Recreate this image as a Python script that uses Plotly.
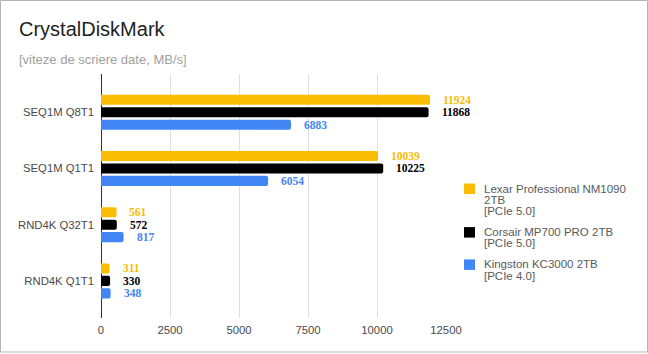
import plotly.graph_objects as go

categories = ["SEQ1M Q8T1", "SEQ1M Q1T1", "RND4K Q32T1", "RND4K Q1T1"]
series_names = [
    "Lexar Professional NM1090 2TB [PCIe 5.0]",
    "Corsair MP700 PRO 2TB [PCIe 5.0]",
    "Kingston KC3000 2TB [PCIe 4.0]",
]
legend_lines = [
    ["Lexar Professional NM1090", "2TB", "[PCIe 5.0]"],
    ["Corsair MP700 PRO 2TB", "[PCIe 5.0]"],
    ["Kingston KC3000 2TB", "[PCIe 4.0]"],
]
lexar = [11924, 10039, 561, 311]
corsair = [11868, 10225, 572, 330]
kingston = [6883, 6054, 817, 348]
colors = ["#fbbc04", "#000000", "#4285f4"]
x_ticks = [0, 2500, 5000, 7500, 10000, 12500]

series_values = [lexar, corsair, kingston]

W, H = 648, 354
L, R, T, B = 101, 202, 74, 36
PW = W - L - R
PH = H - T - B


def px(xp):
    return (xp - L) / PW


def py(yp):
    return (H - B - yp) / PH


fig = go.Figure()
for name, vals, col in zip(series_names, series_values, colors):
    fig.add_trace(go.Bar(
        y=categories, x=vals, orientation="h", name=name,
        marker=dict(color=col, line=dict(width=0)),
        showlegend=False, hoverinfo="x+name",
    ))

# category spacing and bar slot in pixels
yrange = [3.66, -0.68]
unit_px = PH / (yrange[0] - yrange[1])
bargap = 0.336
slot = unit_px * (1 - bargap) / 3

annotations = []
for i, (vals, col) in enumerate(zip(series_values, colors)):
    for c, v in zip(categories, vals):
        annotations.append(dict(
            x=v, y=c, xref="x", yref="y", text=f"<b>{v}</b>",
            showarrow=False, xanchor="left", yanchor="middle",
            xshift=11, yshift=(1 - i) * slot,
            font=dict(family="Liberation Serif, Times New Roman, serif", size=11.5, color=col),
        ))

# title & subtitle
annotations.append(dict(
    x=px(17), y=py(29), xref="paper", yref="paper", text="CrystalDiskMark",
    showarrow=False, xanchor="left", yanchor="middle",
    font=dict(family="Arial", size=20, color="#222222"),
))
annotations.append(dict(
    x=px(17), y=py(59), xref="paper", yref="paper", text="[viteze de scriere date, MB/s]",
    showarrow=False, xanchor="left", yanchor="middle",
    font=dict(family="Arial", size=13, color="#a0a0a0"),
))

# manual legend
shapes = []
yline = 188.5
for lines, col in zip(legend_lines, colors):
    shapes.append(dict(
        type="rect", xref="paper", yref="paper",
        x0=px(464), x1=px(475), y0=py(yline - 5), y1=py(yline + 5.5),
        fillcolor=col, line=dict(width=0),
    ))
    for ln in lines:
        annotations.append(dict(
            x=px(482), y=py(yline), xref="paper", yref="paper", text=ln,
            showarrow=False, xanchor="left", yanchor="middle",
            font=dict(family="Arial", size=11.5, color="#5a5a5a"),
        ))
        yline += 11.3
    yline += 21 - 11.3

# outer border
shapes.append(dict(
    type="rect", xref="paper", yref="paper",
    x0=px(0.5), x1=px(647.5), y0=py(352), y1=py(0.5),
    line=dict(color="#b4b4b4", width=1), fillcolor="rgba(0,0,0,0)", layer="above",
))

fig.update_layout(
    width=W, height=H,
    margin=dict(l=L, r=R, t=T, b=B, pad=0),
    paper_bgcolor="white", plot_bgcolor="white",
    barmode="group", bargap=bargap, bargroupgap=0.19, barcornerradius=2,
    annotations=annotations, shapes=shapes,
    showlegend=False,
    xaxis=dict(
        range=[0, 12500], tickvals=x_ticks, ticktext=[str(t) for t in x_ticks],
        showgrid=True, gridcolor="#e0e0e0", gridwidth=1,
        zeroline=True, zerolinecolor="#333333", zerolinewidth=1,
        showline=False, ticks="", ticklabelstandoff=4,
        tickfont=dict(family="Arial", size=11.3, color="#4a4a4a"),
    ),
    yaxis=dict(
        type="category", range=yrange, showgrid=False, zeroline=False,
        showline=False, ticks="", ticklabelstandoff=6,
        tickfont=dict(family="Arial", size=11.3, color="#4a4a4a"),
    ),
)

fig.write_html("out.html")
